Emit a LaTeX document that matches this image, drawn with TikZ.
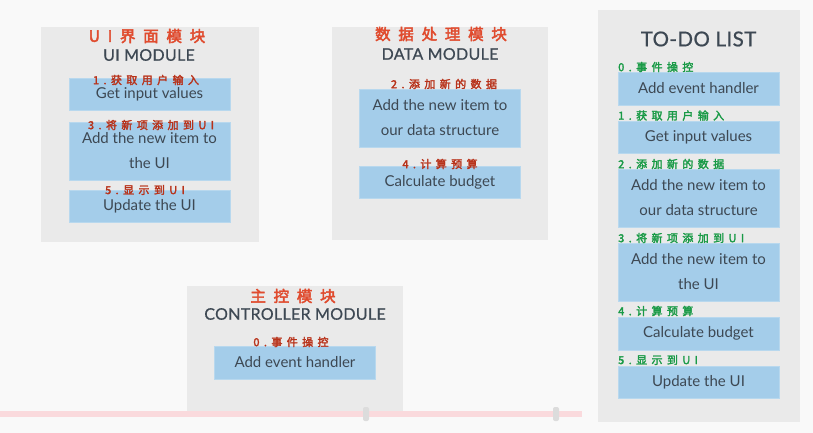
\documentclass[tikz,border=0pt]{standalone}
\usepackage{fontspec}
\setmainfont{Lato}
\newfontfamily\cjkt[LetterSpace=50,FakeBold=3]{Noto Sans CJK SC}
\newfontfamily\cjkl[LetterSpace=40,FakeBold=2.5]{Noto Sans CJK SC}
\newfontfamily\latotitle[LetterSpace=2,FakeBold=0.6]{Lato}
\definecolor{bg}{HTML}{F9F9F9}
\definecolor{panel}{HTML}{EAEAEA}
\definecolor{boxc}{HTML}{A4CDEA}
\definecolor{boxb}{HTML}{B8D8EE}
\definecolor{txt}{HTML}{3D4853}
\definecolor{redt}{HTML}{E04B2E}
\definecolor{redl}{HTML}{B8321A}
\definecolor{grn}{HTML}{199A46}
\definecolor{pinkl}{HTML}{FADADD}
\definecolor{handle}{HTML}{DCDCDC}
\tikzset{
  panelbox/.style={fill=panel, draw=none},
  itembox/.style={fill=boxc, draw=boxb, line width=0.6pt, minimum width=161pt, inner sep=0pt, text=txt, align=center, font=\fontsize{15}{25}\selectfont},
  cntitle/.style={text=redt, font=\cjkt\fontsize{15.5}{15.5}\selectfont, inner sep=0pt},
  entitle/.style={text=txt, font=\latotitle\fontsize{16}{16}\selectfont, inner sep=0pt},
  redlab/.style={text=redl, font=\cjkl\fontsize{11}{11}\selectfont, inner sep=0pt},
  grnlab/.style={text=grn, font=\cjkl\fontsize{11}{11}\selectfont, inner sep=0pt, anchor=west},
}
\begin{document}
\begin{tikzpicture}[x=1pt,y=-1pt]
\useasboundingbox (0,0) rectangle (813,433);
\fill[bg] (0,0) rectangle (813,433);
% panels
\fill[panelbox] (41,27) rectangle (259,242);
\fill[panelbox] (332,27) rectangle (548,240);
\fill[panelbox] (598,10) rectangle (800,422);
\fill[panelbox] (187,286) rectangle (403,412);
% pink line and handles
\fill[pinkl] (0,411) rectangle (582,417);
\fill[handle, rounded corners=2pt] (363,407) rectangle (369,421);
\fill[handle, rounded corners=2pt] (553,407) rectangle (559,421);
% UI module
\node[cntitle] (uicn) at (147,36) {UI界面模块};
\node[entitle] (uien) at (149,55) {UI MODULE};
\node[itembox, minimum height=32pt] (u1) at (149.5,94) {Get input values};
\node[itembox, minimum height=58pt] (u2) at (149.5,151) {Add the new item to\\the UI};
\node[itembox, minimum height=32pt] (u3) at (149.5,206) {Update the UI};
\node[redlab] (u1l) at (146,80) {1.获取用户输入};
\node[redlab] (u2l) at (151,125) {3.将新项添加到UI};
\node[redlab] (u3l) at (145,190) {5.显示到UI};
% Data module
\node[cntitle] (dcn) at (441,34) {数据处理模块};
\node[entitle] (den) at (440,54) {DATA MODULE};
\node[itembox, minimum height=58pt] (d1) at (440,118) {Add the new item to\\our data structure};
\node[itembox, minimum height=32pt] (d2) at (440,182) {Calculate budget};
\node[redlab] (d1l) at (444,84) {2.添加新的数据};
\node[redlab] (d2l) at (440,164) {4.计算预算};
% Controller
\node[cntitle] (ccn) at (293,296) {主控模块};
\node[entitle] (cen) at (295,314) {CONTROLLER MODULE};
\node[itembox, minimum height=33pt] (c1) at (295,362.5) {Add event handler};
\node[redlab] (c1l) at (291,342) {0.事件操控};
% TODO list
\node[text=txt, font=\latotitle\fontsize{20.5}{20}\selectfont, inner sep=0pt] (tt) at (698.5,39) {TO-DO LIST};
\node[itembox, minimum height=33pt] (t0) at (698.5,88.5) {Add event handler};
\node[itembox, minimum height=32pt] (t1) at (698.5,137) {Get input values};
\node[itembox, minimum height=58pt] (t2) at (698.5,198) {Add the new item to\\our data structure};
\node[itembox, minimum height=58pt] (t3) at (698.5,272) {Add the new item to\\the UI};
\node[itembox, minimum height=33pt] (t4) at (698.5,333.5) {Calculate budget};
\node[itembox, minimum height=32pt] (t5) at (698.5,382) {Update the UI};
\node[grnlab] (t0l) at (618,67) {0.事件操控};
\node[grnlab] (t1l) at (618,115.5) {1.获取用户输入};
\node[grnlab] (t2l) at (618,164) {2.添加新的数据};
\node[grnlab] (t3l) at (618,238) {3.将新项添加到UI};
\node[grnlab] (t4l) at (618,311) {4.计算预算};
\node[grnlab] (t5l) at (618,360) {5.显示到UI};
\end{tikzpicture}
\end{document}
